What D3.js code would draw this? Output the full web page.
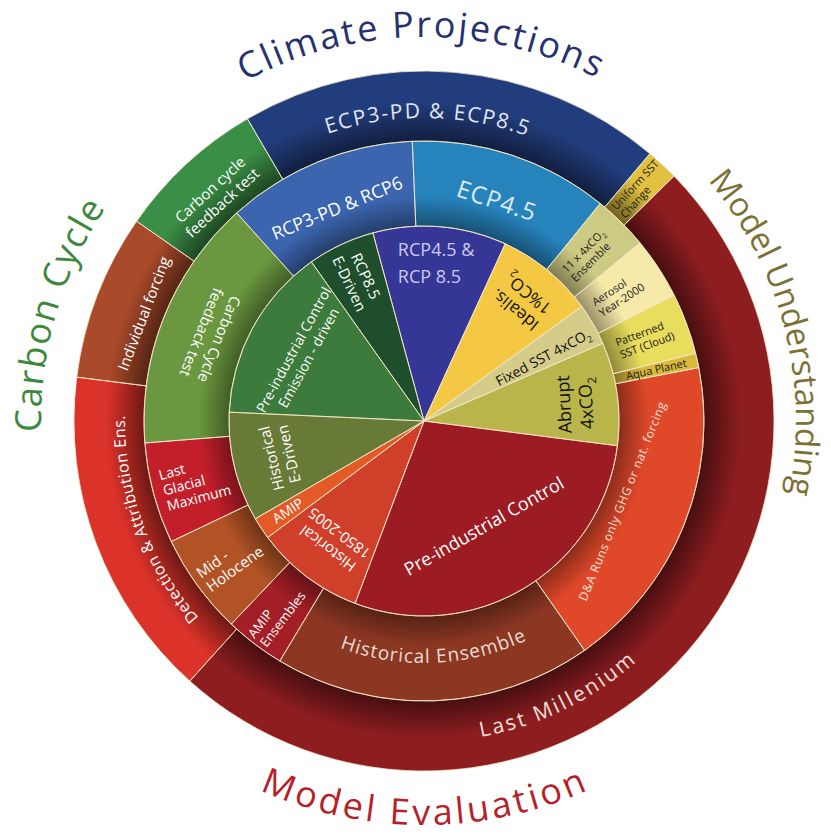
<!DOCTYPE html>
<html>
<head>
<meta charset="utf-8">
<script src="https://cdn.jsdelivr.net/npm/d3@7"></script>
<style>
  body { margin: 0; background: #fff; }
  text { font-family: "Open Sans", "Noto Sans", sans-serif; }
</style>
</head>
<body>
<svg id="chart"></svg>
<script>
// angular extent of every experiment, in degrees, clockwise from 12 o'clock
// inner pie
const innerLabels = ['Pre-industrial Control\nEmission - driven', 'RCP8.5\nE-Driven', 'RCP4.5 &\nRCP 8.5',
  'Idealis.\n1%CO{2}', 'Fixed SST 4xCO{2}', 'Abrupt\n4xCO{2}', 'Pre-industrial Control',
  'Historical\n1850-2005', 'AMIP', 'Historical\nE-Driven'];
const innerSpans = [52.1, 20.1, 39.8, 29.4, 12.5, 30.8, 103.4, 32.6, 6.6, 32.7];
const innerStart = 272.6;

// middle ring
const midLabels = ['RCP3-PD & RCP6', 'ECP4.5', '11 x 4xCO{2}\nEnsemble', 'Aerosol\nYear-2000',
  'Patterned\nSST (Cloud)', 'Aqua Planet', 'D&A Runs only GHG or nat. forcing', 'Historical Ensemble',
  'AMIP\nEnsembles', 'Mid -\nHolocene', 'Last\nGlacial\nMaximum', 'Carbon Cycle\nfeedback test'];
const midSpans = [39.6, 41.4, 11.5, 12.8, 12.7, 3, 66, 66, 12.5, 21, 21, 52.5];
const midStart = 318;

// outer ring
const outerLabels = ['ECP3-PD & ECP8.5', 'Uniform SST\nChange', 'Last Millenium',
  'Detection & Attribution Ens.', 'Individual forcing', 'Carbon cycle\nfeedback test'];
const outerSpans = [70.5, 5.4, 176.4, 55.2, 27.6, 24.9];
const outerStart = 329.7;

// group titles round the outside
const titleLabels = ['Climate Projections', 'Model Understanding', 'Model Evaluation', 'Carbon Cycle'];

// colours
const innerColors = ['#3c7b3b', '#1e4e2b', '#363696', '#f4c843', '#d5cc89', '#b9b54b',
  '#9d1b22', '#cf3f29', '#e35a27', '#677b37'];
const midColors = ['#3b65ae', '#2683bc', '#cdcb83', '#f6e9a9', '#e8dd5d', '#d9b93a',
  '#e0482a', '#8b3722', '#a31e26', '#b25325', '#c21f2b', '#6a973f'];
const outerColors = ['#223d7d', '#e1c13f', '#8e1d20', '#db3229', '#a94a2a', '#3a8e45'];
const titleColors = ['#26316f', '#7c7133', '#b71f2a', '#3c893d'];

// label placement: how each text is turned and where it sits
const innerText = [
  {mode: 'tan', r: 140, size: 14, lh: 17},
  {mode: 'radIn', r: 156, size: 15, lh: 18},
  {mode: 'horiz', a: -9.4, r: 160, anchor: 'start', size: 18, lh: 27, color: '#cacaee'},
  {mode: 'tanRev', r: 154, size: 17, lh: 21, color: '#111'},
  {mode: 'radOut', a: 62, r: 135, size: 14, color: '#111'},
  {rot: -93, a: 83.5, r: 152, size: 18, lh: 22, color: '#111'},
  {mode: 'tanRev', a: 150.3, r: 121, size: 18},
  {mode: 'tan', r: 150, size: 15, lh: 19},
  {mode: 'radIn', r: 163, size: 14},
  {mode: 'tan', r: 148, size: 15, lh: 18}
];
const midText = [
  {mode: 'tan', r: 230, size: 18},
  {mode: 'tan', r: 232, size: 24, ls: 1, color: '#dcebf6'},
  {mode: 'radOut', r: 205, anchor: 'start', size: 11, lh: 13, color: '#1a1a1a'},
  {mode: 'radOut', r: 206, anchor: 'start', size: 11, lh: 13, color: '#1a1a1a'},
  {mode: 'radOut', r: 207, anchor: 'start', size: 11, lh: 13, color: '#1a1a1a'},
  {mode: 'radOut', r: 207, anchor: 'start', size: 11, color: '#1a1a1a'},
  {mode: 'tanRev', a: 112, r: 214, size: 12, ls: 0.6, color: '#f5e2d8'},
  {mode: 'arcCCW', a: 177.5, r: 242, size: 19, len: 192, color: '#eddcd3'},
  {mode: 'radIn', r: 276, anchor: 'start', size: 13, lh: 15},
  {mode: 'radIn', r: 273, anchor: 'start', size: 15, lh: 17},
  {mode: 'radIn', r: 270, anchor: 'start', size: 14, lh: 16},
  {mode: 'tanRev', r: 230, size: 15, lh: 19}
];
const outerText = [
  {mode: 'arcCW', a: 0.75, r: 303, size: 21, len: 203, color: '#e2e6f0'},
  {mode: 'radOut', r: 285, anchor: 'start', size: 11, lh: 12, color: '#1a1a1a'},
  {mode: 'arcCCW', a: 154, r: 321, size: 21, len: 175, color: '#f2e0dc'},
  {mode: 'arcCW', a: 250, r: 299, size: 16, len: 220},
  {mode: 'tan', r: 300, size: 15},
  {mode: 'tan', r: 306, size: 15, lh: 18}
];
const titleText = [
  {mode: 'arcCW', a: -0.4, r: 384, size: 36, len: 365},
  {mode: 'arcCW', a: 75.5, r: 372, size: 33, len: 335},
  {mode: 'arcCCW', a: 179.8, r: 404, size: 36, len: 338},
  {mode: 'arcCW', a: 286.2, r: 383, size: 36, len: 237}
];

const W = 831, H = 837;
const cx = 424, cy = 421;
const R1 = 195, R2 = 280, R3 = 350;
const deg = Math.PI / 180;
const lineColor = '#f3e6c6';

const svg = d3.select('#chart').attr('width', W).attr('height', H);
const defs = svg.append('defs');
const g = svg.append('g').attr('transform', 'translate(' + cx + ',' + cy + ')');

const polar = (r, a) => [r * Math.sin(a * deg), -r * Math.cos(a * deg)];

// shadow along the inner edge of a ring
function shade(id, r0, r1, depth, strength) {
  const grad = defs.append('radialGradient').attr('id', id)
      .attr('gradientUnits', 'userSpaceOnUse')
      .attr('cx', 0).attr('cy', 0).attr('r', r1);
  grad.append('stop').attr('offset', r0 / r1).attr('stop-color', '#000').attr('stop-opacity', strength);
  grad.append('stop').attr('offset', (r0 + depth) / r1).attr('stop-color', '#000').attr('stop-opacity', 0);
  grad.append('stop').attr('offset', 1).attr('stop-color', '#000').attr('stop-opacity', 0);
}
shade('shade2', R1, R2, 30, 0.38);
shade('shade3', R2, R3, 38, 0.5);

// one line of text, with {x} written as a subscript
function writeLine(t, str, size) {
  const parts = str.split(/(\{[^}]*\})/).filter((s) => s.length);
  let down = false;
  parts.forEach((p) => {
    if (p[0] === '{') {
      t.append('tspan').attr('font-size', size * 0.65).attr('dy', size * 0.28).text(p.slice(1, -1));
      down = true;
    } else {
      const s = t.append('tspan').text(p);
      if (down) {
        s.attr('dy', -size * 0.28);
        down = false;
      }
    }
  });
}

function straightLabel(layer, str, a, spec) {
  const lines = str.split('\n');
  const [x, y] = polar(spec.r, a);
  const rot = spec.rot !== undefined ? spec.rot :
    {tan: a, tanRev: a - 180, radOut: a - 90, radIn: a + 90, horiz: 0}[spec.mode];
  const lab = layer.append('g').attr('transform', 'translate(' + x + ',' + y + ') rotate(' + rot + ')');
  const lh = spec.lh || spec.size * 1.2;
  lines.forEach((ln, i) => {
    const t = lab.append('text')
        .attr('x', 0)
        .attr('y', (i - (lines.length - 1) / 2) * lh + spec.size * 0.35)
        .attr('text-anchor', spec.anchor || 'middle')
        .attr('font-size', spec.size)
        .attr('letter-spacing', spec.ls || 0)
        .attr('fill', spec.color || '#fff');
    writeLine(t, ln, spec.size);
  });
}

let pathCount = 0;
function curvedLabel(layer, str, a, spec, fill) {
  const id = 'tp' + (pathCount++);
  const cw = spec.mode === 'arcCW';
  const p0 = polar(spec.r, cw ? a - 85 : a + 85);
  const p1 = polar(spec.r, cw ? a + 85 : a - 85);
  defs.append('path').attr('id', id)
      .attr('d', 'M' + p0 + 'A' + spec.r + ',' + spec.r + ' 0 0 ' + (cw ? 1 : 0) + ' ' + p1);
  const t = layer.append('text').attr('font-size', spec.size).attr('fill', fill);
  t.append('textPath').attr('href', '#' + id)
      .attr('startOffset', '50%').attr('text-anchor', 'middle')
      .text(str);
  if (spec.len) {
    const natural = t.node().getComputedTextLength();
    t.attr('letter-spacing', (spec.len - natural) / (str.length - 1));
  }
}

const rings = [
  {labels: innerLabels, spans: innerSpans, start: innerStart, colors: innerColors, text: innerText, r0: 0, r1: R1},
  {labels: midLabels, spans: midSpans, start: midStart, colors: midColors, text: midText, r0: R1, r1: R2, shade: 'shade2'},
  {labels: outerLabels, spans: outerSpans, start: outerStart, colors: outerColors, text: outerText, r0: R2, r1: R3, shade: 'shade3'}
];

const fillLayer = g.append('g');
const lineLayer = g.append('g');
const labelLayer = g.append('g');

rings.forEach((ring) => {
  const pie = d3.pie().sort(null).value((d) => d)
      .startAngle(ring.start * deg)
      .endAngle(ring.start * deg + 2 * Math.PI);
  const slices = pie(ring.spans);
  const arc = d3.arc().innerRadius(ring.r0).outerRadius(ring.r1);

  fillLayer.append('g').selectAll('path')
      .data(slices)
      .join('path')
      .attr('d', arc)
      .attr('fill', (d, i) => ring.colors[i]);

  if (ring.shade) {
    fillLayer.append('path')
        .attr('d', d3.arc().innerRadius(ring.r0).outerRadius(ring.r1)({startAngle: 0, endAngle: 2 * Math.PI}))
        .attr('fill', 'url(#' + ring.shade + ')');
  }

  lineLayer.append('g').selectAll('path')
      .data(slices)
      .join('path')
      .attr('d', arc)
      .attr('fill', 'none')
      .attr('stroke', lineColor)
      .attr('stroke-width', 0.8);

  slices.forEach((d, i) => {
    const spec = ring.text[i];
    const mid = (d.startAngle + d.endAngle) / 2 / deg;
    const a = spec.a !== undefined ? spec.a : mid;
    if (spec.mode === 'arcCW' || spec.mode === 'arcCCW') {
      curvedLabel(labelLayer, ring.labels[i], a, spec, spec.color || '#fff');
    } else {
      straightLabel(labelLayer, ring.labels[i], a, spec);
    }
  });
});

titleLabels.forEach((name, i) => {
  curvedLabel(labelLayer, name, titleText[i].a, titleText[i], titleColors[i]);
});
</script>
</body>
</html>
